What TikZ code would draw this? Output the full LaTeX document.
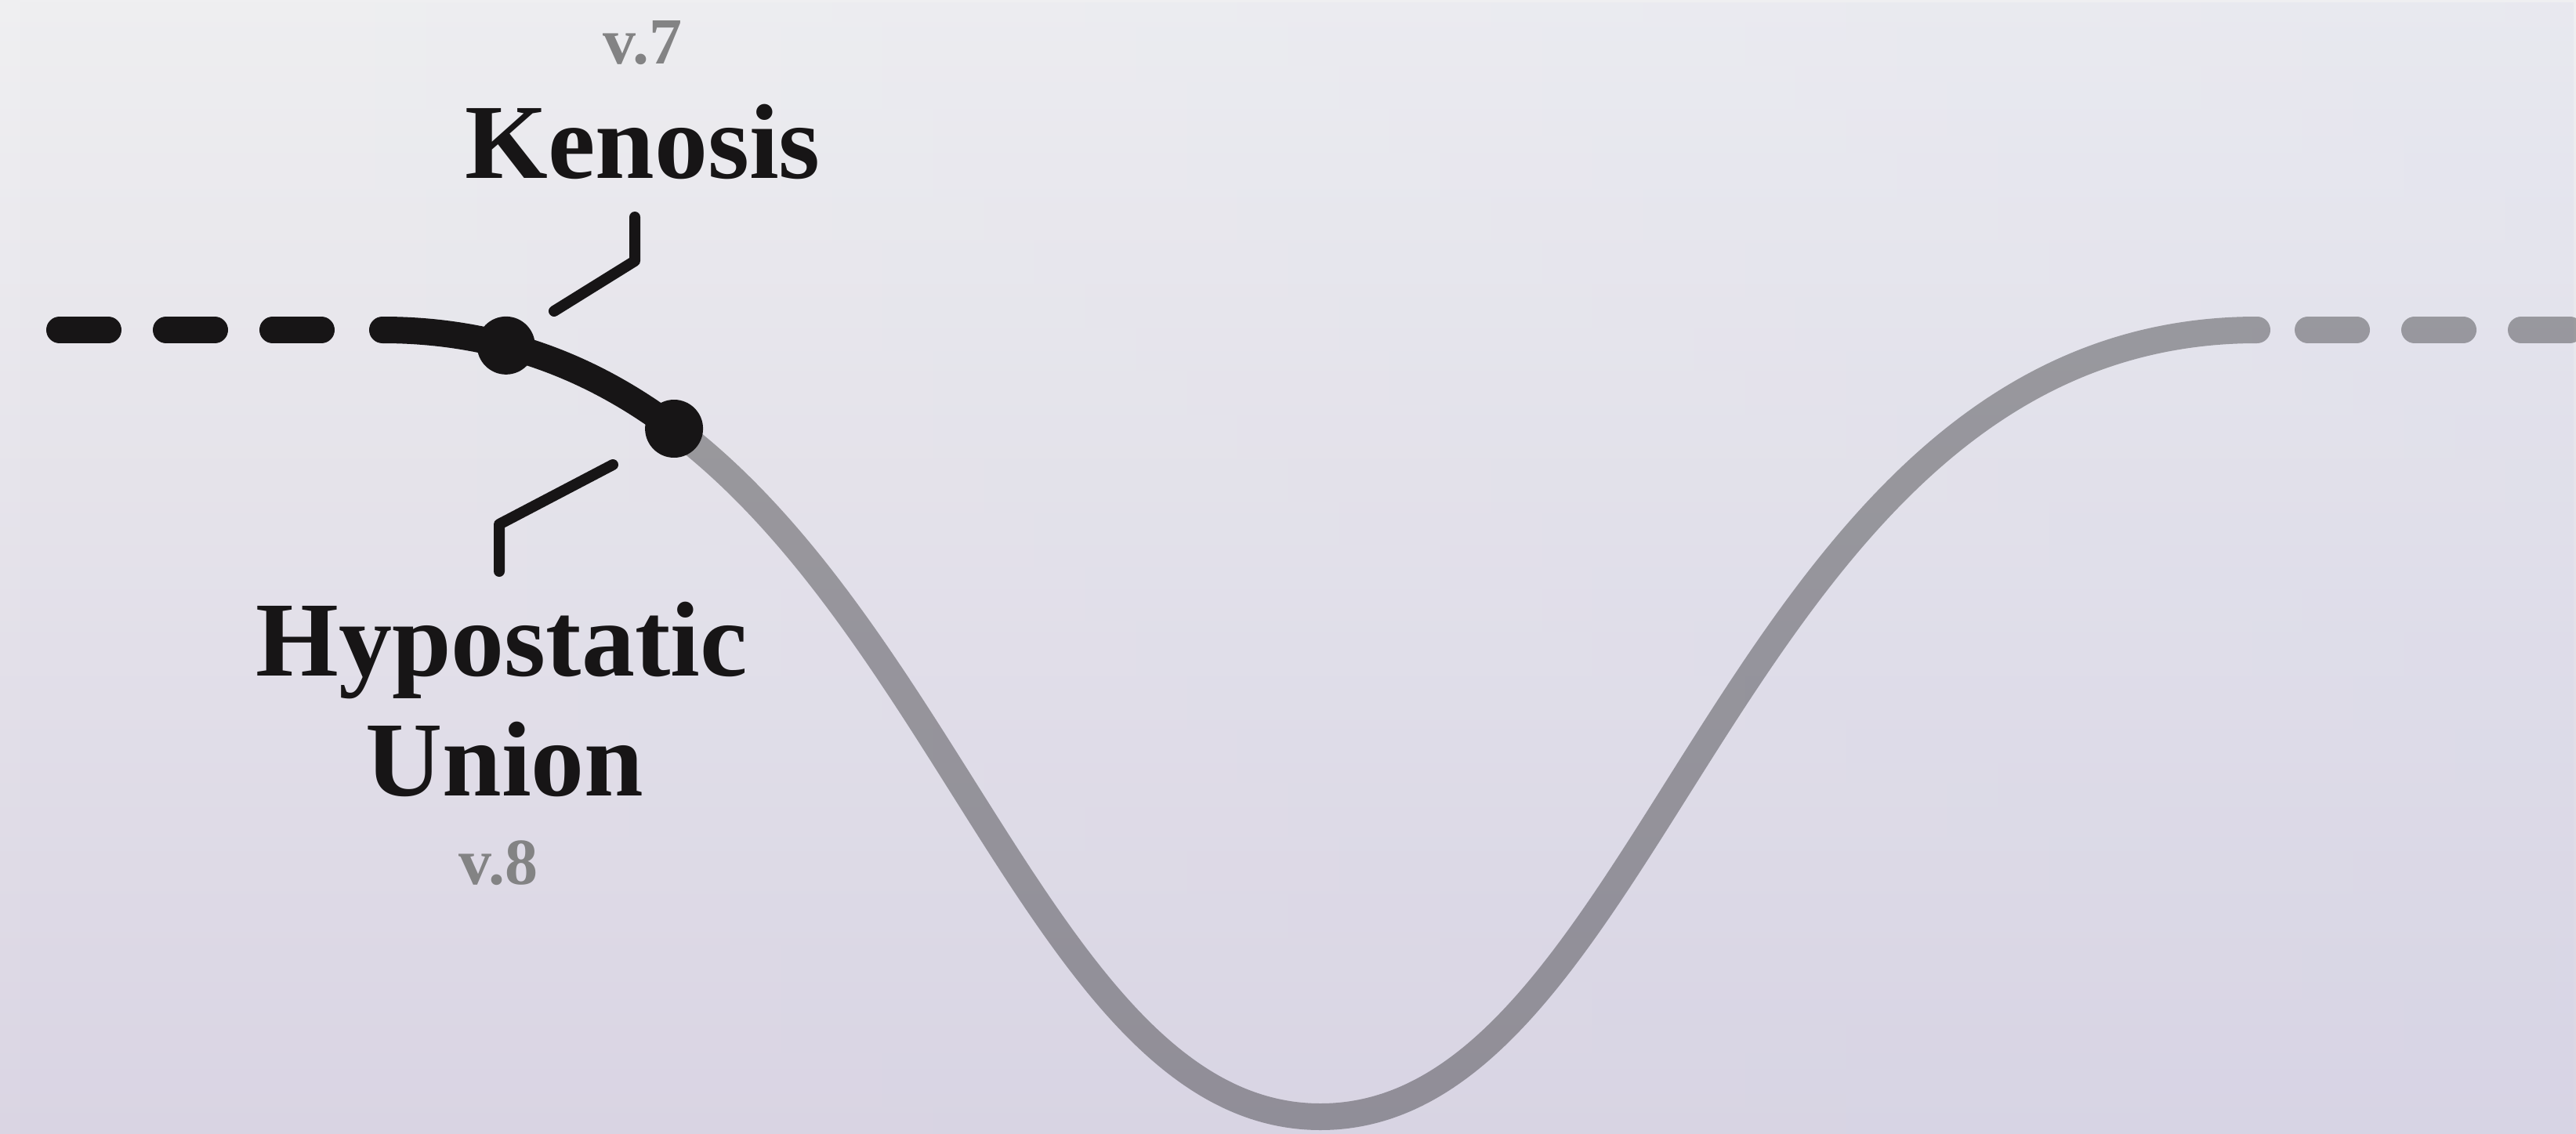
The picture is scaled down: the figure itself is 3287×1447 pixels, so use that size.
\documentclass[tikz,border=0pt]{standalone}
\usepackage{fontspec}
\setmainfont{Liberation Serif}
\usetikzlibrary{fadings}
\definecolor{bgtop}{HTML}{EFEFF1}
\definecolor{bgbot}{HTML}{DAD5E3}
\definecolor{bgblue}{HTML}{CCD0EA}
\definecolor{ink}{HTML}{171516}
\definecolor{versegray}{HTML}{838384}
\tikzfading[name=toright, left color=transparent!100, right color=transparent!0]
\begin{document}
\begin{tikzpicture}[x=1pt,y=-1pt,
  darkline/.style={draw=ink, line width=34pt, line cap=round},
  faintline/.style={draw=black, draw opacity=0.33, line width=34pt, line cap=round},
  dashpat/.style={dash pattern=on 62pt off 74pt},
  leader/.style={draw=ink, line width=14pt, line cap=round, line join=round},
  dot/.style={circle, fill=ink, minimum size=74pt, inner sep=0pt},
  title/.style={font=\fontsize{136}{153}\selectfont\bfseries, text=ink, inner sep=0pt, anchor=base},
  verse/.style={font=\fontsize{84}{96}\selectfont\bfseries, text=versegray, inner sep=0pt, anchor=base}]
% background
\useasboundingbox (0,0) rectangle (3287,1447);
\shade[top color=bgtop, bottom color=bgbot] (0,0) rectangle (3287,1447);
\fill[bgblue, path fading=toright, fill opacity=0.2] (0,0) rectangle (3287,1447);
% faint part of the curve
\draw[faintline] (860.1,547) .. controls (1217.9,816.5) and (1350.2,1425) .. (1685,1425)
  .. controls (2115,1425) and (2211,421) .. (2880,421);
\draw[faintline, dashpat] (2945,421) -- (3300,421);
% dark part of the curve
\draw[darkline, dashpat] (76,421) -- (412,421);
\draw[darkline] (488,421) .. controls (638.2,421) and (758.3,470.3) .. (860.1,547)
  coordinate[pos=0.377] (c1) coordinate[pos=1] (c2);
\node[dot] (d1) at (c1) {};
\node[dot] (d2) at (c2) {};
% labels
\node[verse] (v7) at (820,82) {v.7};
\node[title] (keno) at (820,228) {Kenosis};
\node[title] (hyp) at (640,862) {Hypostatic};
\node[title] (union) at (644,1015) {Union};
\node[verse] (v8) at (636,1128) {v.8};
% leaders
\coordinate (k1) at (810,277);
\coordinate (k2) at (810,333);
\coordinate (k3) at (707,397);
\draw[leader] (k1) -- (k2) -- (k3);
\coordinate (h1) at (782,593);
\coordinate (h2) at (637,669);
\coordinate (h3) at (637,729);
\draw[leader] (h1) -- (h2) -- (h3);
\end{tikzpicture}
\end{document}
